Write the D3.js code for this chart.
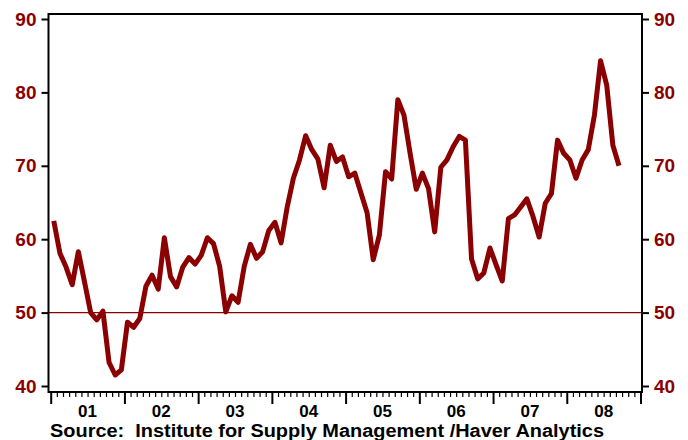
<!DOCTYPE html>
<html><head><meta charset="utf-8">
<script src="https://cdn.jsdelivr.net/npm/d3@7"></script>
<style>html,body{margin:0;padding:0;background:#fff;}svg{display:block;}</style>
</head><body>
<script>
// ISM index, monthly Jan 2001 .. Sep 2008
const startYear = 2001;
const values = [
  62.5, 58.1, 56.2, 53.8, 58.3, 54.2, 50.0, 49.0, 50.2, 43.2, 41.5, 42.2,
  48.7, 48.0, 49.2, 53.6, 55.1, 53.2, 60.2, 54.9, 53.5, 56.2, 57.5, 56.6,
  57.8, 60.2, 59.4, 56.3, 50.1, 52.3, 51.4, 56.3, 59.3, 57.4, 58.3, 61.2,
  62.3, 59.5, 64.4, 68.3, 70.8, 74.1, 72.2, 70.9, 67.0, 72.8, 70.6, 71.2,
  68.5, 69.0, 66.3, 63.6, 57.2, 60.6, 69.2, 68.2, 79.0, 76.9, 71.7, 66.8,
  69.0, 66.9, 61.0, 69.8, 70.8, 72.6, 74.0, 73.5, 57.3, 54.6, 55.4, 58.8,
  56.5, 54.3, 62.8, 63.3, 64.4, 65.5, 63.1, 60.3, 64.9, 66.2, 73.5, 71.7,
  70.8, 68.3, 70.8, 72.2, 76.9, 84.3, 81.0, 72.8, 70.0
];
const yearLabels = ["01","02","03","04","05","06","07","08"];
const yTicks = [40, 50, 60, 70, 80, 90];
const refLevel = 50;

const W = 688, H = 440;
const red = "#8b0000";
const svg = d3.select("body").append("svg").attr("width", W).attr("height", H);

const x = d3.scaleLinear().domain([0, yearLabels.length * 12]).range([50.7, 640.5]);
const y = d3.scaleLinear().domain([40, 90]).range([386, 19]);

const frame = {l: 48.5, r: 642, t: 14, b: 392};

// reference line at 50
svg.append("line")
  .attr("x1", frame.l).attr("x2", frame.r)
  .attr("y1", y(refLevel)).attr("y2", y(refLevel))
  .attr("stroke", red).attr("stroke-width", 1.2);

// data line
const line = d3.line().x((d, i) => x(i + 0.5)).y(d => y(d)).curve(d3.curveLinear);
svg.append("path").datum(values)
  .attr("d", line).attr("fill", "none")
  .attr("stroke", red).attr("stroke-width", 5)
  .attr("stroke-linejoin", "round");

// frame
svg.append("rect")
  .attr("x", frame.l).attr("y", frame.t)
  .attr("width", frame.r - frame.l).attr("height", frame.b - frame.t)
  .attr("fill", "none").attr("stroke", "#000").attr("stroke-width", 2);

// y axes
const fontFam = "'Liberation Sans', Arial, Helvetica, sans-serif";
const yAxisL = d3.axisLeft(y).tickValues(yTicks).tickSize(7).tickPadding(5).tickFormat(d3.format("d"));
const gl = svg.append("g").attr("transform", `translate(${frame.l},0)`).call(yAxisL);
const yAxisR = d3.axisRight(y).tickValues(yTicks).tickSize(7).tickPadding(5).tickFormat(d3.format("d"));
const gr = svg.append("g").attr("transform", `translate(${frame.r},0)`).call(yAxisR);
[gl, gr].forEach(g => {
  g.select(".domain").remove();
  g.selectAll(".tick line").attr("stroke", "#000").attr("stroke-width", 2);
  g.selectAll(".tick text").attr("fill", red).attr("font-family", fontFam)
    .attr("font-weight", "bold").attr("font-size", 19);
});

// x axis: monthly minor ticks, yearly major ticks
const months = d3.range(0, yearLabels.length * 12 + 1);
const xAxis = d3.axisBottom(x).tickValues(months).tickSize(0).tickFormat("");
const gx = svg.append("g").attr("transform", `translate(0,${frame.b})`).call(xAxis);
gx.select(".domain").remove();
gx.selectAll(".tick line")
  .attr("y2", d => d % 12 === 0 ? 12 : 5)
  .attr("stroke", "#000").attr("stroke-width", d => d % 12 === 0 ? 2 : 1.2);
svg.append("g").selectAll("text").data(yearLabels).join("text")
  .attr("x", (d, i) => x(i * 12 + 6)).attr("y", 417)
  .attr("text-anchor", "middle").attr("fill", "#000")
  .attr("font-family", fontFam).attr("font-weight", "bold").attr("font-size", 17)
  .text(d => d);

// source
svg.append("text").attr("x", 50).attr("y", 437)
  .attr("font-family", fontFam).attr("font-weight", "bold").attr("font-size", 18)
  .attr("fill", "#000")
  .attr("textLength", 554).attr("lengthAdjust", "spacingAndGlyphs")
  .attr("xml:space", "preserve")
  .text("Source:  Institute for Supply Management /Haver Analytics");
</script>
</body></html>
